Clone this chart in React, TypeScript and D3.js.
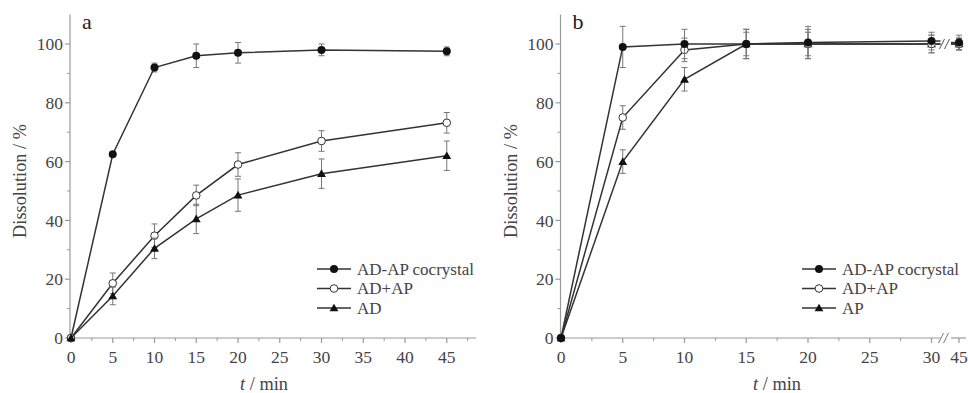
import React from 'react';
import * as d3 from 'd3';

// time points (min)
const times = [0, 5, 10, 15, 20, 30, 45];

// panel a
const cocrystalA = [0, 62.5, 92, 96, 97, 98, 97.5];
const cocrystalAErr = [0, 0, 1.5, 4, 3.5, 2, 1.5];
const mixA = [0, 18.6, 34.8, 48.5, 59, 67, 73.2];
const mixAErr = [0, 3.5, 4, 3.5, 4, 3.5, 3.5];
const adA = [0, 14.3, 30.5, 40.5, 48.6, 55.9, 62];
const adAErr = [0, 3, 3.5, 5, 5.5, 5, 5];

// panel b
const cocrystalB = [0, 99, 100, 100, 100.5, 101, 100.5];
const cocrystalBErr = [0, 7, 5, 5, 5.5, 3, 2.5];
const mixB = [0, 75, 98, 100, 100, 100, 100];
const mixBErr = [0, 4, 4, 4, 4, 3, 2];
const apB = [0, 60, 88, 100, 100, 100, 100];
const apBErr = [0, 4, 4, 5, 5, 3, 2];

const legendA = ['AD-AP cocrystal', 'AD+AP', 'AD'];
const legendB = ['AD-AP cocrystal', 'AD+AP', 'AP'];
const markers = ['dot', 'open', 'tri'];

const yMajor = [0, 20, 40, 60, 80, 100];
const yMinor = [10, 30, 50, 70, 90];
const xMajorA = [0, 5, 10, 15, 20, 25, 30, 35, 40, 45];
const xMinorA = [2.5, 7.5, 12.5, 17.5, 22.5, 27.5, 32.5, 37.5, 42.5, 47.5];
const xMajorB = [0, 5, 10, 15, 20, 25, 30, 45];
const xMinorB = [2.5, 7.5, 12.5, 17.5, 22.5, 27.5];

const FONT = 'Liberation Serif';
const LINE = '#333';
const AXIS = '#999';
const TEXT = '#444';

const Marker = ({ kind, x, y }: { kind: string; x: number; y: number }) => {
  if (kind === 'dot') return <circle cx={x} cy={y} r={4} fill="#111" />;
  if (kind === 'open') return <circle cx={x} cy={y} r={3.8} fill="#fff" stroke={LINE} strokeWidth={1} />;
  const sym = d3.symbol(d3.symbolTriangle, 34)();
  return <path d={sym as string} transform={`translate(${x},${y + 0.8})`} fill="#111" />;
};

type Series = { vals: number[]; errs: number[]; kind: string };

const Panel = ({ label, series, legend, broken, x0, x1, yAxisX, legX, titleX, yTitleX }: any) => {
  const y = d3.scaleLinear().domain([0, 110]).range([338, 14.6]);
  const x = broken
    ? d3.scaleLinear().domain([0, 30, 45]).range([x0, x1, x1 + 27.5])
    : d3.scaleLinear().domain([0, 48.5]).range([x0, x1]);
  const axisEnd = broken ? x(45) + 7 : x1;
  const line = d3.line<[number, number]>().x(d => x(d[0])).y(d => y(d[1]));
  const brkL = broken ? x(30) + 9 : 0;
  const brkR = broken ? x(45) - 8 : 0;
  const majors = broken ? xMajorB : xMajorA;
  const minors = broken ? xMinorB : xMinorA;

  return (
    <g>
      {/* axes */}
      <line x1={yAxisX} x2={yAxisX} y1={y(110)} y2={y(0)} stroke={AXIS} strokeWidth={1.2} />
      {broken ? (
        <g>
          <line x1={x0} x2={brkL} y1={y(0)} y2={y(0)} stroke={AXIS} strokeWidth={1.2} />
          <line x1={brkR} x2={axisEnd} y1={y(0)} y2={y(0)} stroke={AXIS} strokeWidth={1.2} />
          {[brkL, brkL + 5].map((bx, i) => (
            <line key={i} x1={bx - 2} x2={bx + 3} y1={y(0) + 5} y2={y(0) - 5} stroke="#777" strokeWidth={1} />
          ))}
        </g>
      ) : (
        <line x1={x0} x2={axisEnd} y1={y(0)} y2={y(0)} stroke={AXIS} strokeWidth={1.2} />
      )}
      {yMajor.map(v => (
        <g key={v}>
          <line x1={yAxisX - 5} x2={yAxisX} y1={y(v)} y2={y(v)} stroke={AXIS} strokeWidth={1.2} />
          <text x={yAxisX - 7} y={y(v)} dy="0.35em" textAnchor="end" fontSize={17.5} fill={TEXT} fontFamily={FONT}>{v}</text>
        </g>
      ))}
      {yMinor.map(v => (
        <line key={v} x1={yAxisX - 3} x2={yAxisX} y1={y(v)} y2={y(v)} stroke={AXIS} strokeWidth={1} />
      ))}
      {majors.map(v => (
        <g key={v}>
          <line x1={x(v)} x2={x(v)} y1={y(0)} y2={y(0) + 5} stroke={AXIS} strokeWidth={1.2} />
          <text x={x(v)} y={y(0) + 25} textAnchor="middle" fontSize={17.5} fill={TEXT} fontFamily={FONT}>{v}</text>
        </g>
      ))}
      {minors.map(v => (
        <line key={v} x1={x(v)} x2={x(v)} y1={y(0)} y2={y(0) + 3} stroke={AXIS} strokeWidth={1} />
      ))}

      {/* titles */}
      <text x={titleX} y={390} textAnchor="middle" fontSize={18.3} fill={TEXT} fontFamily={FONT}>
        <tspan fontStyle="italic">t</tspan> / min
      </text>
      <text transform={`translate(${yTitleX},181) rotate(-90)`} textAnchor="middle" dy="0.35em" fontSize={18.3} fill={TEXT} fontFamily={FONT}>
        Dissolution / %
      </text>
      <text x={yAxisX + 12} y={29} fontSize={22} fill="#222" fontFamily={FONT}>{label}</text>

      {/* series */}
      {series.map((s: Series, i: number) => {
        const pts: [number, number][] = times.map((t, j) => [t, s.vals[j]]);
        const main = broken ? pts.filter(p => p[0] <= 30) : pts;
        const last = pts[pts.length - 1];
        const prev = pts[pts.length - 2];
        return (
          <g key={i}>
            {times.map((t, j) =>
              s.errs[j] > 0 ? (
                <g key={j} stroke="#777" strokeWidth={1}>
                  <line x1={x(t)} x2={x(t)} y1={y(s.vals[j] - s.errs[j])} y2={y(s.vals[j] + s.errs[j])} />
                  <line x1={x(t) - 3} x2={x(t) + 3} y1={y(s.vals[j] - s.errs[j])} y2={y(s.vals[j] - s.errs[j])} />
                  <line x1={x(t) - 3} x2={x(t) + 3} y1={y(s.vals[j] + s.errs[j])} y2={y(s.vals[j] + s.errs[j])} />
                </g>
              ) : null
            )}
            <path d={line(main) as string} fill="none" stroke={LINE} strokeWidth={1.5} />
            {broken ? (
              <g>
                <line x1={x(prev[0])} x2={brkL} y1={y(prev[1])} y2={y(prev[1])} stroke={LINE} strokeWidth={1.5} />
                <line x1={brkR} x2={x(last[0])} y1={y(last[1])} y2={y(last[1])} stroke={LINE} strokeWidth={1.5} />
                {i === 0 && [brkL + 1, brkL + 6].map((bx, k) => (
                  <line key={k} x1={bx - 2} x2={bx + 3} y1={y(prev[1]) + 5} y2={y(prev[1]) - 5} stroke="#555" strokeWidth={1} />
                ))}
              </g>
            ) : null}
            {pts.map((p, j) => <Marker key={j} kind={s.kind} x={x(p[0])} y={y(p[1])} />)}
          </g>
        );
      })}

      {/* legend */}
      {legend.map((name: string, i: number) => {
        const ly = 269 + i * 19.5;
        return (
          <g key={name}>
            <line x1={legX} x2={legX + 34} y1={ly} y2={ly} stroke={LINE} strokeWidth={1.5} />
            <Marker kind={markers[i]} x={legX + 17} y={ly} />
            <text x={legX + 40} y={ly} dy="0.35em" fontSize={17} fill={TEXT} fontFamily={FONT}>{name}</text>
          </g>
        );
      })}
    </g>
  );
};

export default function App() {
  const seriesA: Series[] = [
    { vals: cocrystalA, errs: cocrystalAErr, kind: 'dot' },
    { vals: mixA, errs: mixAErr, kind: 'open' },
    { vals: adA, errs: adAErr, kind: 'tri' },
  ];
  const seriesB: Series[] = [
    { vals: apB, errs: apBErr, kind: 'tri' },
    { vals: mixB, errs: mixBErr, kind: 'open' },
    { vals: cocrystalB, errs: cocrystalBErr, kind: 'dot' },
  ];
  return (
    <svg width={968} height={393} fontFamily={FONT} style={{ position: 'absolute', left: 0, top: 0, background: '#fff' }}>
      <Panel label="a" series={seriesA} legend={legendA} broken={false}
        x0={71} x1={476} yAxisX={70} legX={317} titleX={264} yTitleX={20} />
      <Panel label="b" series={seriesB} legend={legendB} broken={true}
        x0={561} x1={931.5} yAxisX={560.5} legX={802} titleX={777} yTitleX={511} />
    </svg>
  );
}
